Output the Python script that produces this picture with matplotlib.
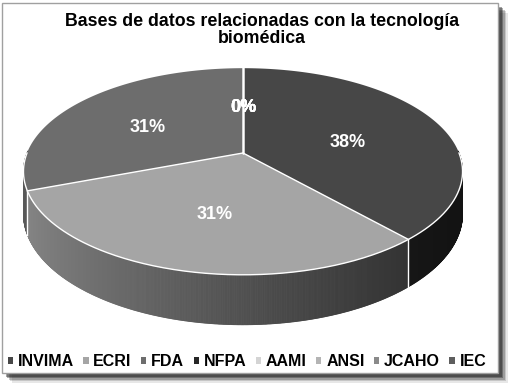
"""
Gráfico de torta 3D: bases de datos relacionadas con la tecnología biomédica.
"""

import numpy as np
import matplotlib
matplotlib.use("Agg")
import matplotlib.pyplot as plt
from matplotlib.patches import Polygon, Rectangle, Patch
from matplotlib.collections import PolyCollection

plt.rcParams["font.family"] = ["Liberation Sans", "DejaVu Sans"]

# datos
categorias = ["INVIMA", "ECRI", "FDA", "NFPA", "AAMI", "ANSI", "JCAHO", "IEC"]
cantidades = [5, 4, 4, 0, 0, 0, 0, 0]
colores = ["#474747", "#a5a5a5", "#6d6d6d", "#262626",
           "#d4d4d4", "#b4b4b4", "#8a8a8a", "#5e5e5e"]
titulo = "Bases de datos relacionadas con la tecnología\nbiomédica"

# geometría de la torta (en pixeles de la imagen)
CX, CY = 243, 153     # centro de la torta
A, B = 216, 100       # semiejes
K = 0.179             # perspectiva
PROF = 41             # espesor


def proyectar(theta, r=1.0, caida=0.0):
    X = r * np.cos(theta)
    Y = r * np.sin(theta)
    w = 1 + K * Y
    return CX + A * X / w, CY - B * Y / w + caida / w


def sombra_lateral(x):
    t = np.clip((x - 23) / 440.0, 0, 1)
    return 0.82 - 0.56 * t ** 0.75


fig = plt.figure(figsize=(5.08, 3.87), dpi=100)
ax = fig.add_axes([0, 0, 1, 1])
ax.set_xlim(0, 508)
ax.set_ylim(387, 0)
ax.axis("off")

# marco con sombra
for i, a in enumerate([0.10, 0.16, 0.24, 0.34, 0.40]):
    off = 10 - i * 1.6
    ax.add_patch(Rectangle((2 + off, 3 + off), 496, 370, color="#1a1a1a",
                           alpha=a, lw=0, zorder=0))
ax.add_patch(Rectangle((2, 3), 496, 370, facecolor="white",
                       edgecolor="#a0a0a0", lw=1.0, zorder=1))

total = float(sum(cantidades))
fracs = np.array(cantidades) / total
acum = np.concatenate([[0], np.cumsum(fracs)])
ang_ini = np.pi / 2 - 2 * np.pi * acum[:-1]
ang_fin = np.pi / 2 - 2 * np.pi * acum[1:]

# paredes laterales (solo la parte delantera)
polys, cols = [], []
for i, c in enumerate(colores):
    if fracs[i] == 0:
        continue
    ts = np.linspace(ang_fin[i], ang_ini[i], 400)
    base = np.array(matplotlib.colors.to_rgb(c))
    for t0, t1 in zip(ts[:-1], ts[1:]):
        tm = 0.5 * (t0 + t1)
        if np.sin(tm) > 0.02:
            continue
        x0, y0 = proyectar(t0)
        x1, y1 = proyectar(t1)
        x2, y2 = proyectar(t1, caida=PROF)
        x3, y3 = proyectar(t0, caida=PROF)
        polys.append([(x0, y0), (x1, y1), (x2, y2), (x3, y3)])
        cols.append(base * sombra_lateral(0.5 * (x0 + x1)))
ax.add_collection(PolyCollection(polys, facecolors=cols, edgecolors=cols,
                                 linewidths=0.6, zorder=2))

# lineas blancas verticales en los cortes del frente
for t in ang_ini:
    if np.sin(t) < -0.02:
        x0, y0 = proyectar(t)
        x1, y1 = proyectar(t, caida=PROF)
        ax.plot([x0, x1], [y0, y1], color="white", lw=1.0, zorder=3)

# caras superiores
for i, c in enumerate(colores):
    if fracs[i] == 0:
        continue
    ts = np.linspace(ang_ini[i], ang_fin[i], 200)
    xs, ys = proyectar(ts)
    pts = [(CX, CY)] + list(zip(xs, ys))
    ax.add_patch(Polygon(pts, closed=True, facecolor=c, edgecolor="none",
                         zorder=4))

# borde blanco delantero y radios
ts = np.linspace(-np.pi, 0, 300)
xs, ys = proyectar(ts)
ax.plot(xs, ys, color="white", lw=1.0, zorder=5)
for t in ang_ini:
    x0, y0 = proyectar(t)
    ax.plot([CX, x0], [CY, y0], color="white", lw=1.0, zorder=5)

# etiquetas de porcentaje
for i in range(len(categorias)):
    if fracs[i] == 0:
        lx, ly = proyectar(ang_ini[i], r=0.5)
    else:
        ts = np.linspace(ang_ini[i], ang_fin[i], 200)
        xs, ys = proyectar(ts)
        px = np.concatenate([[CX], xs])
        py = np.concatenate([[CY], ys])
        # centroide del poligono
        a = px * np.roll(py, -1) - np.roll(px, -1) * py
        area = a.sum() / 2
        gx = ((px + np.roll(px, -1)) * a).sum() / (6 * area)
        gy = ((py + np.roll(py, -1)) * a).sum() / (6 * area)
        tm = 0.5 * (ang_ini[i] + ang_fin[i])
        mx, my = proyectar(tm, r=0.5)
        lx, ly = 0.6 * gx + 0.4 * mx, 0.6 * gy + 0.4 * my
    ax.text(lx, ly, f"{fracs[i] * 100:.0f}%", color="white", fontsize=13,
            fontweight="bold", ha="center", va="center", zorder=6)

# titulo
ax.text(262, 30, titulo, ha="center", va="center", fontsize=12.8,
        fontweight="bold", linespacing=1.05, zorder=6)

# leyenda
handles = [Patch(facecolor=c, edgecolor="none") for c in colores]
ax.legend(handles, categorias, loc="center",
          bbox_to_anchor=(247 / 508, 1 - 362 / 387),
          ncol=8, frameon=False, prop={"weight": "bold", "size": 11.5},
          handlelength=0.32, handleheight=0.32, handletextpad=0.3,
          columnspacing=0.6, borderaxespad=0)

fig.savefig("out.png", dpi=100)
plt.close(fig)
